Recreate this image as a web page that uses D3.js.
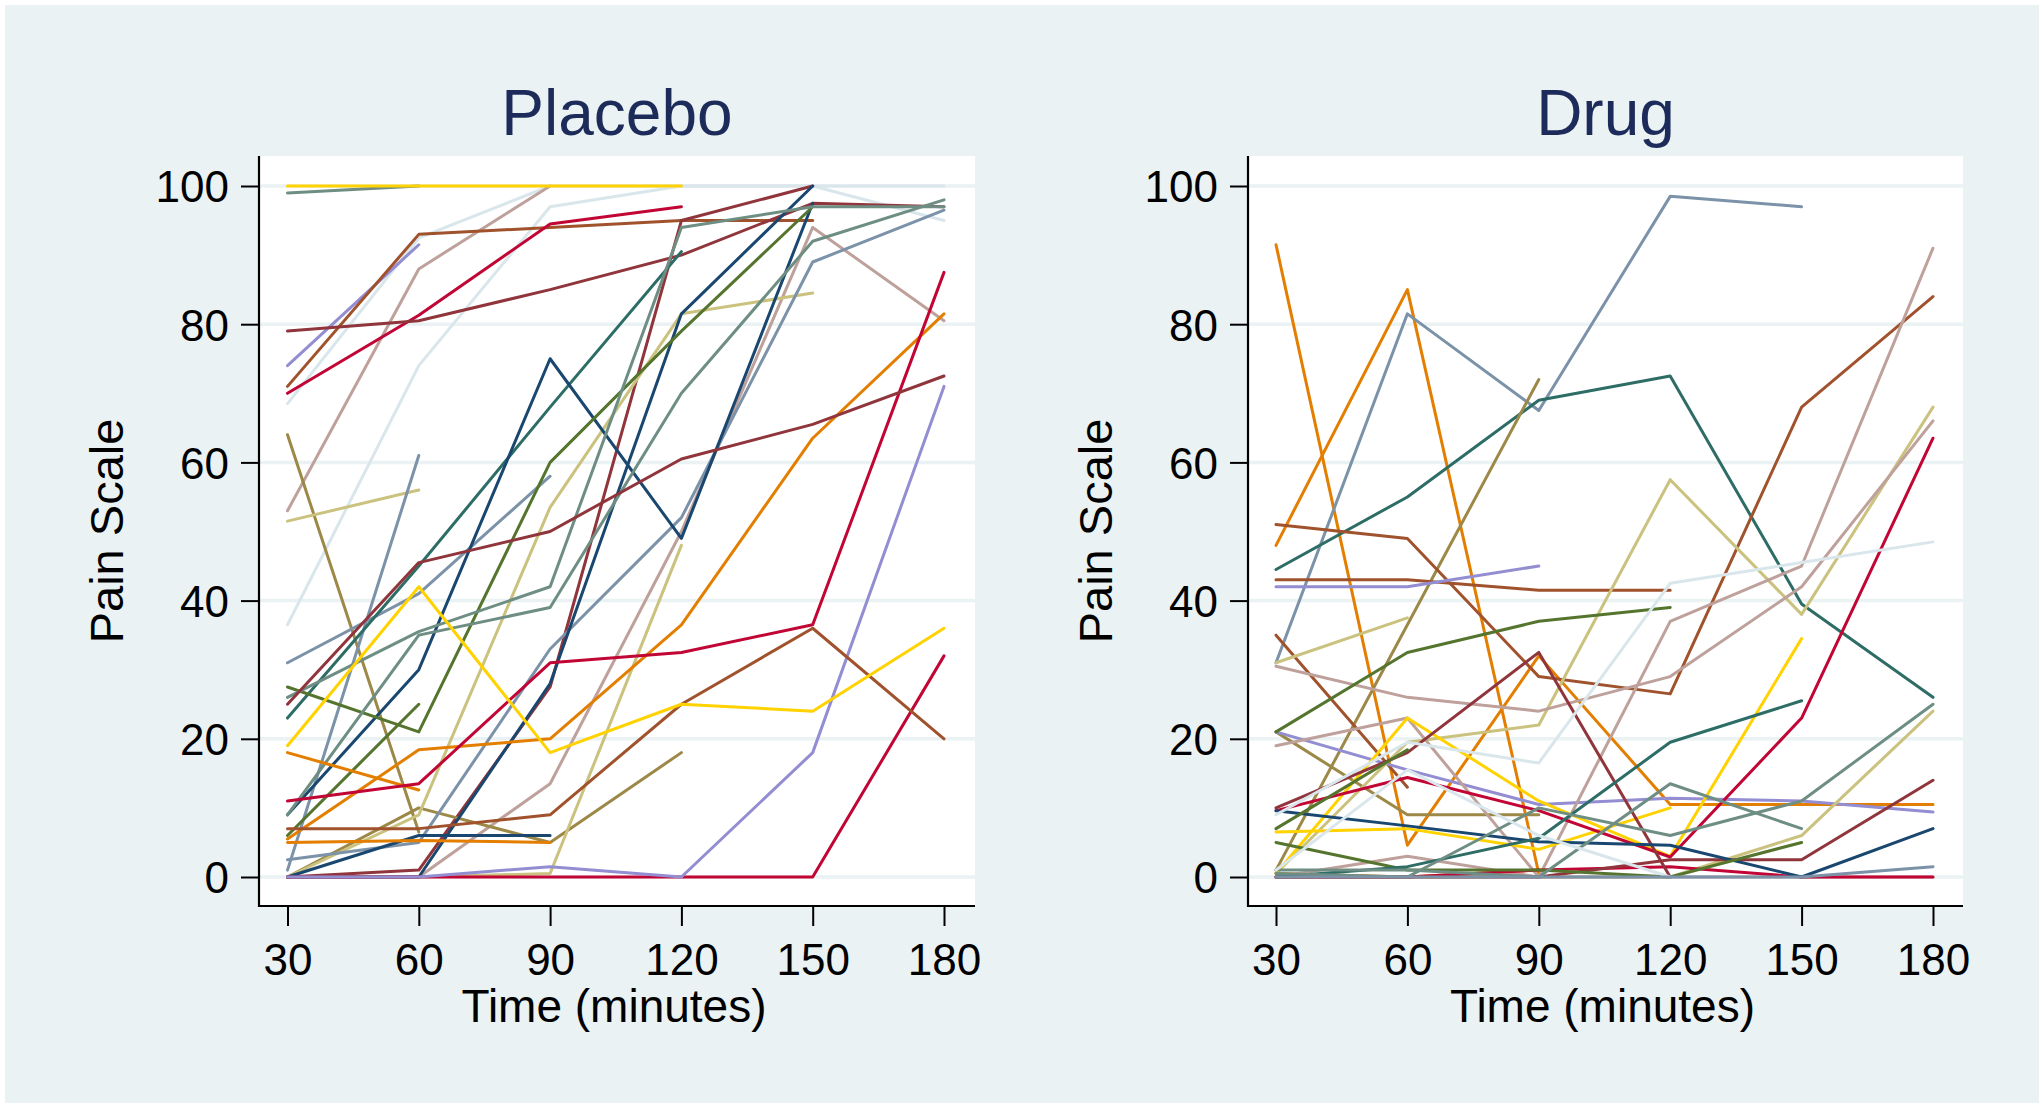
<!DOCTYPE html>
<html><head><meta charset="utf-8">
<script src="https://cdn.jsdelivr.net/npm/d3@7"></script>
<style>
body{margin:0;background:#fff}
svg{display:block}
text{font-family:"Liberation Sans",Arial,Helvetica,sans-serif}
</style>
</head><body>
<svg id="c" width="2044" height="1108"></svg>
<script>
const times = [30, 60, 90, 120, 150, 180];
const yTicks = [0, 20, 40, 60, 80, 100];
const panelTitles = ["Placebo", "Drug"];
const yTitle = "Pain Scale";
const xTitle = "Time (minutes)";

const palette = {
  navy: "#1a476f", maroon: "#90353b", forest: "#55752f", dkorange: "#e37e00",
  teal: "#6e8e84", cranberry: "#c10534", lavender: "#938dd2", khaki: "#cac27e",
  sienna: "#a0522d", emidblue: "#7b92a8", emerald: "#2d6d66", brown: "#9c8847",
  erose: "#bfa19c", gold: "#ffd200", bluishgray: "#d9e6eb"
};

// Placebo subjects: pain score at 30..180 minutes (null = missing)
const placeboSeries = [
  [99, 100, null, null, null, null],
  [68.5, 92.5, 100, 100, 100, 100],
  [36.5, 74, 97, 100, 100, 95],
  [53, 88, 100, null, null, null],
  [100, 100, 100, 100, null, null],
  [74, 91.5, null, null, null, null],
  [71, 93, 94, 95, 95, null],
  [70, 81.3, 94.5, 97, null, null],
  [79, 80.5, 85, 90, 97.5, 97],
  [0, 1, 27.5, 95, 100, null],
  [0, 0, 13.5, 50, 94, 80.5],
  [64, 6.5, null, null, null, null],
  [0, 10, 5, 18, null, null],
  [51.5, 56, null, null, null, null],
  [0, 9, 53.5, 81.5, 84.5, null],
  [0, 0, 0.5, 48, null, null],
  [1, 61, null, null, null, null],
  [2.5, 5, 33, 52, 89, 96.5],
  [31, 41, 58, null, null, null],
  [23, 45, 68, 90.5, null, null],
  [9, 30, 75, 49, 97.5, null],
  [0, 6, 6, null, null, null],
  [0, 0, 28, 81.5, 100, null],
  [27.5, 21, 60, 79, 97, null],
  [6, 25, null, null, null, null],
  [26, 35.5, 42, 94, 97, 97],
  [9, 35, 39, 70, 92, 98],
  [18, 12.6, null, null, null, null],
  [5.5, 18.4, 20, 36.5, 63.5, 81.5],
  [5, 5.3, 5, null, null, null],
  [11, 13.5, 31, 32.5, 36.5, 87.5],
  [0, 0, 0, 0, 0, 32],
  [0, 0, 1.5, 0, 18, 71],
  [7, 7, 9, 25, 36, 20],
  [19, 42, 18, 25, 24, 36],
  [25, 45.5, 50, 60.5, 65.5, 72.5]
];
const placeboColors = [
  "teal", "bluishgray", "bluishgray", "erose", "gold", "lavender", "sienna", "cranberry", "maroon",
  "maroon", "erose", "brown", "brown", "khaki", "khaki", "khaki",
  "emidblue", "emidblue", "emidblue", "emerald", "navy", "navy", "navy", "forest",
  "forest", "teal", "teal", "dkorange", "dkorange", "dkorange", "cranberry", "cranberry",
  "lavender", "sienna", "gold", "maroon"
];

// Drug subjects
const drugSeries = [
  [91.5, 4.6, 32, 10.5, 10.5, 10.5],
  [48, 85, 0.5, null, null, null],
  [0.5, 0, 1, null, null, null],
  [31, 81.5, 67.5, 98.5, 97, null],
  [44.5, 55, 69, 72.5, 39.5, 26],
  [1, 36.5, 72, null, null, null],
  [21, 9, 9, null, null, null],
  [51, 49, 29, 26.5, 68, 84],
  [43, 43, 41.5, 41.5, null, null],
  [35, 13, null, null, null, null],
  [42, 42, 45, null, null, null],
  [21, 15.5, 10.5, 11.4, 11, 9.4],
  [31, 37.5, null, null, null, null],
  [0.5, 19.5, 22, 57.5, 38, 68],
  [0, 0, 0, 0, 6, 24],
  [30.5, 26, 24, 29, 42, 66],
  [19, 23, 0, 37, 45, 91],
  [0, 3, 0, 0, 0, 0],
  [0.5, 23, 11, 3, 34.5, null],
  [6.5, 7, 4, 10, null, null],
  [9.6, 14.4, 9.6, 2.9, 23, 63.5],
  [0, 0, 1, 1.5, 0, 0],
  [10, 18, 32.5, 0, null, null],
  [0, 0, 0, 2.5, 2.5, 14],
  [9.6, 7.4, 5.1, 4.6, 0, 7],
  [21, 32.5, 37, 39, null, null],
  [7, 18.4, null, null, null, null],
  [5, 1, 1, 0, 5, null],
  [0, 1.5, 5.6, 19.5, 25.5, null],
  [1, 1, 0, 13.5, 7, null],
  [0.5, 0, 10, 6, 11, 25],
  [1, 15.5, 6, 0, null, null],
  [9, 19.5, 16.5, 42.5, 45.5, 48.5],
  [0, 0, 0, 0, 0, 1.5]
];
const drugColors = [
  "dkorange", "dkorange", "dkorange", "emidblue", "emerald", "brown", "brown", "sienna",
  "sienna", "sienna", "lavender", "lavender", "khaki", "khaki", "khaki", "erose",
  "erose", "erose", "gold", "gold", "cranberry", "cranberry", "maroon", "maroon",
  "navy", "forest", "forest", "forest", "emerald", "teal", "teal", "bluishgray",
  "bluishgray", "emidblue"
];

const svg = d3.select("#c");
const W = 2044, H = 1108;
svg.append("rect").attr("x", 0).attr("y", 0).attr("width", W).attr("height", H).attr("fill", "#ffffff");
svg.append("rect").attr("x", 5).attr("y", 5).attr("width", W - 10).attr("height", H - 10).attr("fill", "#eaf2f3");

const panels = [
  {title: panelTitles[0], series: placeboSeries, colors: placeboColors, left: 259, right: 975, r0: 287.5, r1: 944},
  {title: panelTitles[1], series: drugSeries, colors: drugColors, left: 1248, right: 1963, r0: 1276, r1: 1933}
];
const plotTop = 156, plotBottom = 906;
const y = d3.scaleLinear().domain([0, 100]).range([877, 186]);

panels.forEach(p => {
  const x = d3.scaleLinear().domain([30, 180]).range([p.r0, p.r1]);
  const g = svg.append("g");
  g.append("rect").attr("x", p.left).attr("y", plotTop)
    .attr("width", p.right - p.left).attr("height", plotBottom - plotTop).attr("fill", "#ffffff");
  // grid
  g.selectAll("line.grid").data(yTicks).enter().append("line")
    .attr("x1", p.left).attr("x2", p.right)
    .attr("y1", d => y(d)).attr("y2", d => y(d))
    .attr("stroke", "#eaf2f3").attr("stroke-width", 3.5);
  // lines
  const line = d3.line().defined(d => d != null)
    .x((d, i) => x(times[i])).y(d => y(d));
  g.selectAll("path.s").data(p.series).enter().append("path")
    .attr("d", d => line(d))
    .attr("fill", "none")
    .attr("stroke", (d, i) => palette[p.colors[i]])
    .attr("stroke-width", 3)
    .attr("stroke-linejoin", "round")
    .attr("stroke-linecap", "round");
  // axes
  const ya = g.append("g").attr("transform", `translate(${p.left},0)`)
    .call(d3.axisLeft(y).tickValues(yTicks).tickSize(18).tickSizeOuter(0));
  ya.select(".domain").remove();
  ya.selectAll(".tick line").attr("stroke", "#000").attr("stroke-width", 2);
  ya.selectAll(".tick text").attr("x", -30).attr("dy", "0.36em")
    .attr("font-size", 44).attr("fill", "#000").attr("font-family", "Liberation Sans, Arial, sans-serif");
  const xa = g.append("g").attr("transform", `translate(0,${plotBottom})`)
    .call(d3.axisBottom(x).tickValues(times).tickSize(20).tickSizeOuter(0));
  xa.select(".domain").remove();
  xa.selectAll(".tick line").attr("stroke", "#000").attr("stroke-width", 2);
  xa.selectAll(".tick text").attr("y", 69).attr("dy", 0)
    .attr("font-size", 44).attr("fill", "#000").attr("font-family", "Liberation Sans, Arial, sans-serif");
  g.append("line").attr("x1", p.left).attr("x2", p.left).attr("y1", plotTop).attr("y2", plotBottom + 1)
    .attr("stroke", "#000").attr("stroke-width", 2.2);
  g.append("line").attr("x1", p.left - 1).attr("x2", p.right).attr("y1", plotBottom).attr("y2", plotBottom)
    .attr("stroke", "#000").attr("stroke-width", 2.2);
  // titles
  const cx = (p.left + p.right) / 2;
  g.append("text").attr("x", cx).attr("y", 135).attr("text-anchor", "middle")
    .attr("font-size", 64).attr("fill", "#1c2b5a").text(p.title);
  g.append("text").attr("x", cx - 3).attr("y", 1022).attr("text-anchor", "middle")
    .attr("font-size", 46).attr("fill", "#000").text(xTitle);
  g.append("text").attr("transform", `translate(${p.left - 136},${(plotTop + plotBottom) / 2}) rotate(-90)`)
    .attr("text-anchor", "middle").attr("font-size", 47).attr("fill", "#000").text(yTitle);
});
</script>
</body></html>
